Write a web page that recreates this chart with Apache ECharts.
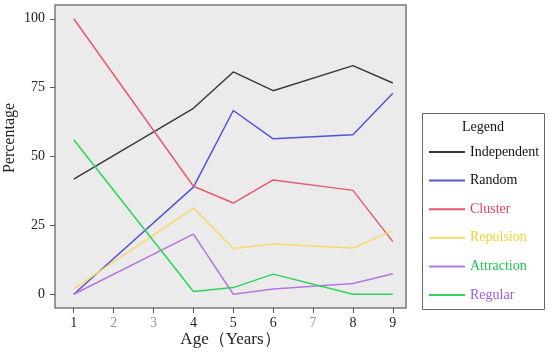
<!DOCTYPE html>
<html><head><meta charset="utf-8">
<script src="https://cdn.jsdelivr.net/npm/echarts@6/dist/echarts.min.js"></script>
<style>html,body{margin:0;padding:0;background:#fff}#c{width:550px;height:352px}</style>
</head><body><div id="c"></div>
<script>
var ages = [1, 4, 5, 6, 8, 9];
var xTicks = [1, 2, 3, 4, 5, 6, 7, 8, 9];
var grayTicks = [2, 3, 7];
var yTicks = [0, 25, 50, 75, 100];
var seriesNames = ['Independent', 'Random', 'Cluster', 'Repulsion', 'Attraction', 'Regular'];
var independent = [41.8, 67.5, 80.7, 73.9, 83.0, 76.7];
var random = [0, 38.9, 66.7, 56.4, 57.9, 73.0];
var cluster = [100, 39.2, 33.1, 41.5, 37.7, 19.1];
var repulsion = [1.9, 31.3, 16.6, 18.2, 16.8, 23.1];
var attraction = [0, 21.8, 0, 1.9, 3.9, 7.4];
var regular = [56.1, 1.0, 2.4, 7.3, 0, 0];

var lineColors = ['#3a3a3a', '#5454d6', '#e85a70', '#f7d96a', '#b476e0', '#2bd65a'];
var textColors = ['#111111', '#111111', '#e3405e', '#f2d23a', '#18c84a', '#a060d8'];
var allData = [independent, random, cluster, repulsion, attraction, regular];

function pairs(vals) { return ages.map(function (a, i) { return [a, vals[i]]; }); }

var chart = echarts.init(document.getElementById('c'), null, {renderer: 'canvas'});
var font = '"Liberation Serif", "Times New Roman", serif';
var option = {
  animation: false,
  textStyle: {fontFamily: font},
  grid: {left: 55, right: 144, top: 5, bottom: 44, outerBoundsMode: 'none', containLabel: false, show: true, backgroundColor: '#ebebeb', borderColor: '#7a7a7a', borderWidth: 1.5},
  xAxis: {
    type: 'value', min: 0.53, max: 9.33,
    name: 'Age（Years）', nameLocation: 'middle', nameGap: 23, nameMoveOverlap: false,
    nameTextStyle: {fontFamily: font, fontSize: 17, color: '#222'},
    axisLine: {show: false, onZero: false},
    splitLine: {show: false},
    axisTick: {show: true, length: 5, lineStyle: {color: '#555'}, customValues: xTicks},
    axisLabel: {
      customValues: xTicks, margin: 8, fontFamily: font, fontSize: 14, color: '#222',
      formatter: function (v) { return grayTicks.indexOf(v) >= 0 ? '{g|' + v + '}' : String(v); },
      rich: {g: {color: '#999', fontFamily: font, fontSize: 14}}
    }
  },
  yAxis: {
    type: 'value', min: -5, max: 105,
    axisLine: {show: false, onZero: false},
    splitLine: {show: false},
    axisTick: {show: true, length: 5, lineStyle: {color: '#555'}, customValues: yTicks},
    axisLabel: {customValues: yTicks, margin: 10, fontFamily: font, fontSize: 14, color: '#222'}
  },
  legend: {
    orient: 'vertical', left: 429, top: 144, padding: 0,
    itemWidth: 36, itemHeight: 2, itemGap: 12.6, icon: 'rect',
    textStyle: {fontFamily: font, fontSize: 14, lineHeight: 16},
    data: seriesNames.map(function (n, i) { return {name: n, itemStyle: {color: lineColors[i]}, textStyle: {color: textColors[i]}}; })
  },
  graphic: [
    {type: 'rect', left: 422, top: 113, shape: {width: 122, height: 196}, style: {fill: '#fff', stroke: '#666', lineWidth: 1}, z: -1},
    {type: 'text', left: 462, top: 120, style: {text: 'Legend', font: '14px ' + font, fill: '#111'}},
    {type: 'text', x: 10, y: 138, rotation: Math.PI / 2, style: {text: 'Percentage', font: '16px ' + font, fill: '#222', align: 'center', verticalAlign: 'middle'}}
  ],
  series: seriesNames.map(function (n, i) {
    return {name: n, type: 'line', data: pairs(allData[i]), symbol: 'none', lineStyle: {color: lineColors[i], width: 1.5}, itemStyle: {color: lineColors[i]}};
  })
};
chart.setOption(option);
</script></body></html>
